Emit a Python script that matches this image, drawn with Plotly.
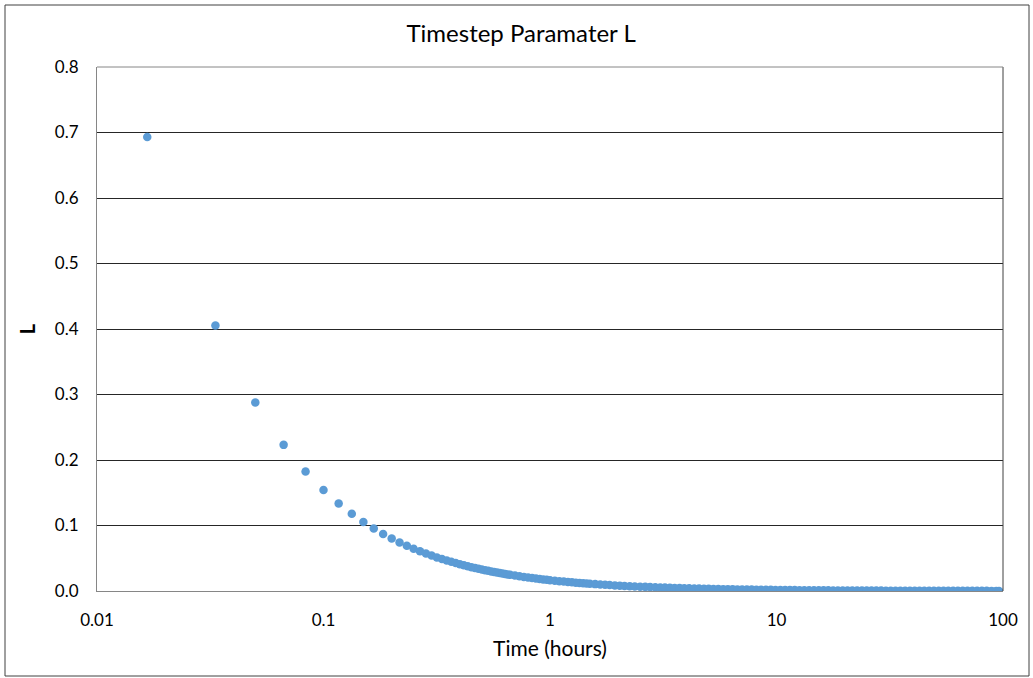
import plotly.graph_objects as go

# Elapsed time of each step, in minutes
minutes = [
    1, 2, 3, 4, 5, 6, 7, 8, 9, 10, 11, 12, 13, 14, 15, 16, 17, 18, 19, 20,
    21, 22, 23, 24, 25, 26, 27, 28, 29, 30, 31, 32, 33, 34, 35, 36, 37, 38, 39, 40,
    42, 44, 46, 48, 50, 52, 54, 56, 58, 60,
    63, 66, 69, 72, 75, 78, 81, 84, 87, 90,
    95, 100, 105, 110, 116, 122, 128, 135, 142, 150, 158, 166, 175, 184, 193,
    203, 213, 224, 235, 247, 260, 273, 287, 301, 316, 332, 349, 366, 384, 403,
    423, 444, 466, 489, 513, 539, 566, 594, 624, 655, 688, 722, 758, 796, 836,
    878, 922, 968, 1016, 1067, 1120, 1176, 1235, 1297, 1362, 1430, 1501, 1576,
    1655, 1738, 1825, 1916, 2012, 2113, 2218, 2329, 2445, 2568, 2696, 2831,
    2972, 3121, 3277, 3441, 3613, 3794, 3983, 4182, 4391, 4611, 4841, 5083,
    5337, 5604, 5760,
]

# Timestep parameter L at each step
L_values = [
    0.6931, 0.4055, 0.2877, 0.2231, 0.1823, 0.1542, 0.1335, 0.1178, 0.1054, 0.0953,
    0.0870, 0.0800, 0.0741, 0.0690, 0.0645, 0.0606, 0.0572, 0.0541, 0.0513, 0.0488,
    0.0465, 0.0445, 0.0426, 0.0408, 0.0392, 0.0377, 0.0364, 0.0351, 0.0339, 0.0328,
    0.0317, 0.0308, 0.0299, 0.0290, 0.0282, 0.0274, 0.0267, 0.0260, 0.0253, 0.0247,
    0.0235, 0.0225, 0.0215, 0.0206, 0.0198, 0.0190, 0.0183, 0.0177, 0.0171, 0.0165,
    0.0157, 0.0150, 0.0144, 0.0138, 0.0132, 0.0127, 0.0123, 0.0118, 0.0114, 0.0110,
    0.0105, 0.00995, 0.00948, 0.00905, 0.00858, 0.00816, 0.00778, 0.00738, 0.00702,
    0.00664, 0.00631, 0.00600, 0.00570, 0.00542, 0.00517,
    0.00491, 0.00468, 0.00445, 0.00425, 0.00404, 0.00384, 0.00366, 0.00348, 0.00332,
    0.00316, 0.00301, 0.00286, 0.00273, 0.00260, 0.00248,
    0.00236, 0.00225, 0.00214, 0.00204, 0.00195, 0.00185, 0.00177, 0.00168, 0.00160,
    0.00153, 0.00145, 0.00138, 0.00132, 0.00126, 0.00120,
    0.00114, 0.00108, 0.00103, 0.000984, 0.000937, 0.000893, 0.000850, 0.000810,
    0.000771, 0.000734, 0.000699, 0.000666, 0.000635,
    0.000604, 0.000575, 0.000548, 0.000522, 0.000497, 0.000473, 0.000451, 0.000429,
    0.000409, 0.000389, 0.000371, 0.000353,
    0.000336, 0.000320, 0.000305, 0.000291, 0.000277, 0.000264, 0.000251, 0.000239,
    0.000228, 0.000217, 0.000207, 0.000197,
    0.000187, 0.000178, 0.000174,
]

x_tick_values = [0.01, 0.1, 1, 10, 100]
x_tick_labels = ["0.01", "0.1", "1", "10", "100"]
y_tick_values = [0.0, 0.1, 0.2, 0.3, 0.4, 0.5, 0.6, 0.7, 0.8]

hours = [m / 60 for m in minutes]

FONT = "Lato, 'Open Sans', sans-serif"
TEXT = "#000000"

fig = go.Figure()
fig.add_trace(go.Scatter(
    x=hours,
    y=L_values,
    mode="markers",
    marker=dict(size=8.5, color="#5B9BD5", line=dict(width=0)),
    showlegend=False,
))

fig.update_layout(
    width=1033,
    height=678,
    margin=dict(l=97, r=30, t=67, b=87),
    paper_bgcolor="white",
    plot_bgcolor="white",
    font=dict(family=FONT, size=17, color=TEXT),
    title=dict(
        text="Timestep Paramater L",
        x=0.5045, xanchor="center",
        y=0.951, yanchor="middle",
        font=dict(family=FONT, size=24, color=TEXT),
    ),
    xaxis=dict(
        type="log",
        range=[-2, 2],
        tickvals=x_tick_values,
        ticktext=x_tick_labels,
        ticks="",
        ticklabelstandoff=14,
        showgrid=False,
        showline=True,
        linecolor="#868686",
        linewidth=1,
        mirror=False,
        zeroline=False,
        title=dict(text="Time (hours)", standoff=11,
                   font=dict(family=FONT, size=21, color=TEXT)),
    ),
    yaxis=dict(
        range=[0, 0.8],
        tickvals=y_tick_values,
        tickformat=".1f",
        ticks="",
        ticklabelstandoff=14,
        showgrid=True,
        gridcolor="#262626",
        gridwidth=1,
        showline=True,
        linecolor="#868686",
        linewidth=1,
        zeroline=False,
        title=dict(text="<b>L</b>", standoff=13,
                   font=dict(family=FONT, size=20, color=TEXT)),
    ),
    shapes=[
        # right edge of the plot area
        dict(type="line", xref="paper", yref="paper", x0=1, x1=1, y0=0, y1=1,
             line=dict(color="#404040", width=1)),
        # top edge of the plot area
        dict(type="line", xref="paper", yref="paper", x0=0, x1=1, y0=1, y1=1,
             line=dict(color="#868686", width=1)),
        # outer chart border
        dict(type="rect", xref="paper", yref="paper",
             x0=(5 - 97) / 906, x1=(1029 - 97) / 906,
             y0=(591 - 676) / 524, y1=(591 - 5) / 524,
             line=dict(color="#404040", width=1), fillcolor="rgba(0,0,0,0)",
             layer="below"),
    ],
)

fig.write_html("out.html")
